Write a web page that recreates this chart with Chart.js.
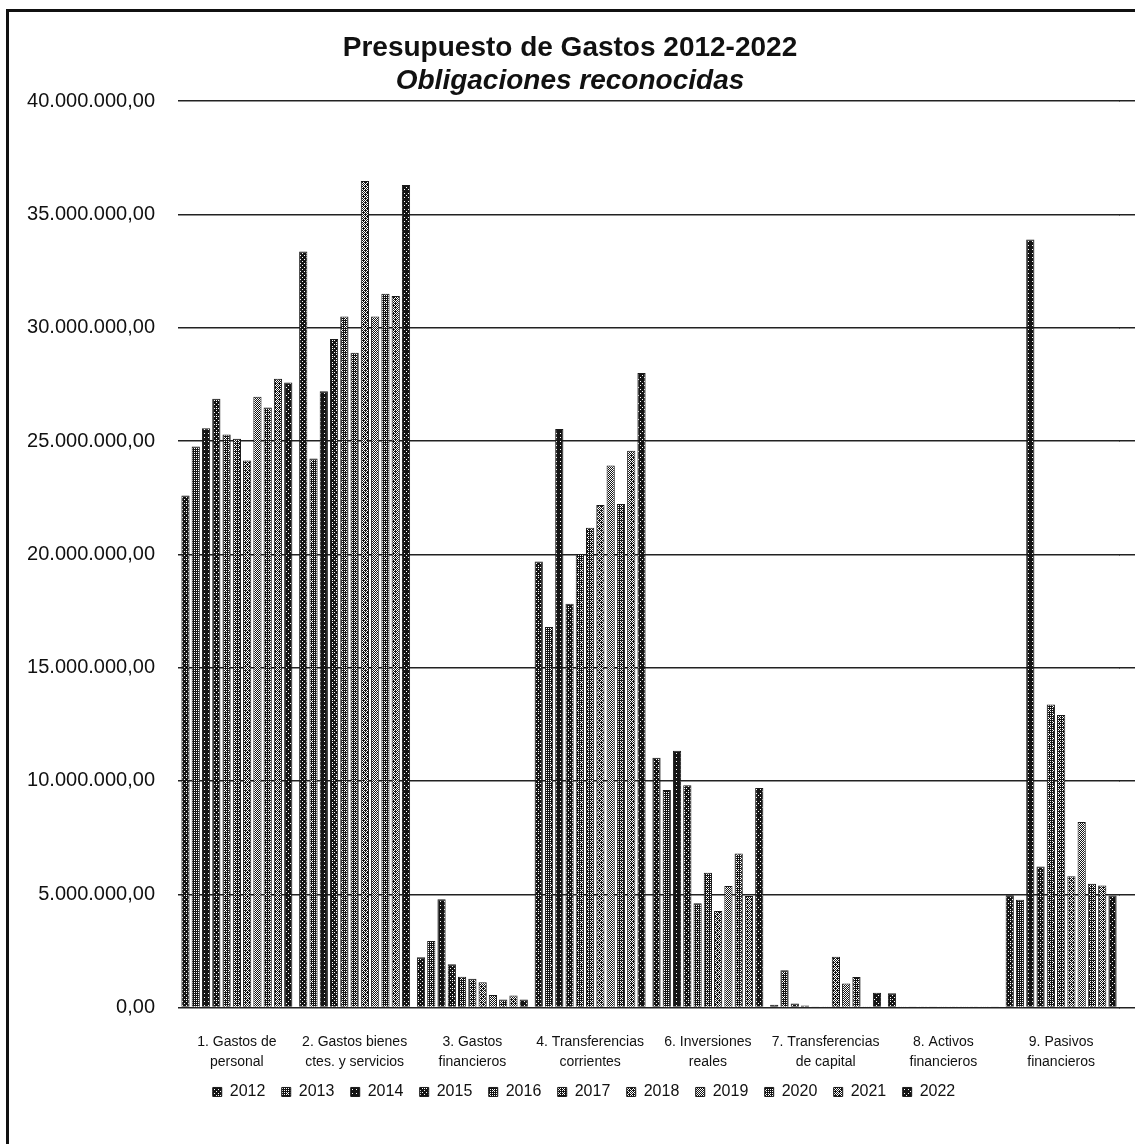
<!DOCTYPE html>
<html>
<head>
<meta charset="utf-8">
<script src="https://cdn.jsdelivr.net/npm/chart.js@4.4.1/dist/chart.umd.min.js"></script>
<style>
  html, body { margin: 0; padding: 0; background: #fff; overflow: hidden; }
  #wrap { position: relative; width: 1135px; height: 1144px; overflow: hidden; }
  #frame { position: absolute; left: 6px; top: 9px; width: 2000px; height: 2000px;
           border-left: 3px solid #111; border-top: 3px solid #111; pointer-events: none; }
  canvas { position: absolute; left: 0; top: 0; }
</style>
</head>
<body>
<div id="wrap">
  <canvas id="c" width="1135" height="1144"></canvas>
  <div id="frame"></div>
</div>
<script>
// ---- Data ----
const categories = [
  ["1. Gastos de", "personal"],
  ["2. Gastos bienes", "ctes. y servicios"],
  ["3. Gastos", "financieros"],
  ["4. Transferencias", "corrientes"],
  ["6. Inversiones", "reales"],
  ["7. Transferencias", "de capital"],
  ["8. Activos", "financieros"],
  ["9. Pasivos", "financieros"]
];
const years = ["2012","2013","2014","2015","2016","2017","2018","2019","2020","2021","2022"];
const v2012 = [22600000, 33370000, 2220000, 19690000, 11030000, 120000, 630000, 4960000];
const v2013 = [24760000, 24230000, 2940000, 16800000, 9600000, 1650000, 20000, 4760000];
const v2014 = [25570000, 27200000, 4780000, 25530000, 11330000, 180000, 20000, 33900000];
const v2015 = [26870000, 29500000, 1910000, 17820000, 9810000, 90000, 20000, 6220000];
const v2016 = [25290000, 30500000, 1360000, 20020000, 4600000, 30000, 20000, 13380000];
const v2017 = [25100000, 28900000, 1270000, 21170000, 5950000, 20000, 20000, 12910000];
const v2018 = [24140000, 36480000, 1120000, 22180000, 4260000, 2240000, 20000, 5790000];
const v2019 = [26960000, 30500000, 550000, 23920000, 5360000, 1060000, 20000, 8190000];
const v2020 = [26480000, 31500000, 360000, 22220000, 6800000, 1350000, 20000, 5460000];
const v2021 = [27750000, 31400000, 530000, 24570000, 4920000, 20000, 20000, 5390000];
const v2022 = [27580000, 36300000, 360000, 28010000, 9690000, 650000, 20000, 4950000];
const seriesValues = [v2012, v2013, v2014, v2015, v2016, v2017, v2018, v2019, v2020, v2021, v2022];
const yTicks = [0, 5000000, 10000000, 15000000, 20000000, 25000000, 30000000, 35000000, 40000000];

// ---- Styles (dither textures imitating the printed patterns) ----
const density = [0.86, 0.74, 0.93, 0.84, 0.72, 0.68, 0.60, 0.50, 0.70, 0.58, 0.91];
const bayer = [
  [0, 32, 8, 40, 2, 34, 10, 42],
  [48, 16, 56, 24, 50, 18, 58, 26],
  [12, 44, 4, 36, 14, 46, 6, 38],
  [60, 28, 52, 20, 62, 30, 54, 22],
  [3, 35, 11, 43, 1, 33, 9, 41],
  [51, 19, 59, 27, 49, 17, 57, 25],
  [15, 47, 7, 39, 13, 45, 5, 37],
  [63, 31, 55, 23, 61, 29, 53, 21]
];
function makePattern(d, shift) {
  const cv = document.createElement('canvas');
  cv.width = 8; cv.height = 8;
  const ctx = cv.getContext('2d');
  ctx.fillStyle = '#fff';
  ctx.fillRect(0, 0, 8, 8);
  ctx.fillStyle = '#151515';
  for (let y = 0; y < 8; y++) {
    for (let x = 0; x < 8; x++) {
      const t = (bayer[(y + shift) % 8][(x + 2 * shift) % 8] + 0.5) / 64;
      if (t < d) ctx.fillRect(x, y, 1, 1);
    }
  }
  return document.getElementById('c').getContext('2d').createPattern(cv, 'repeat');
}

function fmt(v) {
  const s = Math.round(v).toString().replace(/\B(?=(\d{3})+(?!\d))/g, '.');
  return s + ',00';
}

const GRID_W = 1.5;
function alignPx(p, w) { return Math.round(p - w / 2) + w / 2; }

// extend horizontal grid lines to the right edge of the canvas
const gridExtend = {
  id: 'gridExtend',
  beforeDatasetsDraw(chart) {
    const { ctx, chartArea, scales } = chart;
    ctx.save();
    ctx.strokeStyle = '#222';
    ctx.lineWidth = GRID_W;
    yTicks.forEach(v => {
      const y = alignPx(scales.y.getPixelForValue(v), GRID_W);
      ctx.beginPath();
      ctx.moveTo(chartArea.right - 1, y);
      ctx.lineTo(chart.width, y);
      ctx.stroke();
    });
    ctx.restore();
  }
};

// place the legend closer to the category labels, slightly right of centre
const legendLift = {
  id: 'legendLift',
  afterLayout(chart) {
    const lg = chart.legend;
    if (!lg) return;
    const target = chart.chartArea.bottom + 60;
    const dy = lg.top - target;
    lg.top -= dy;
    lg.bottom -= dy;
    lg.left += 14;
    lg.right += 14;
  }
};

const datasets = years.map((y, i) => ({
  label: y,
  data: seriesValues[i],
  backgroundColor: makePattern(density[i], i % 4),
  borderColor: '#1a1a1a',
  borderWidth: 1,
  categoryPercentage: 0.96,
  barPercentage: 0.8
}));

new Chart(document.getElementById('c'), {
  type: 'bar',
  data: { labels: categories, datasets },
  plugins: [gridExtend, legendLift],
  options: {
    responsive: false,
    animation: false,
    devicePixelRatio: 1,
    layout: { padding: { left: 20, right: 15, top: 0, bottom: 4 } },
    plugins: {
      title: {
        display: true,
        text: 'Presupuesto de Gastos 2012-2022',
        color: '#111',
        font: { family: 'Liberation Sans, Arial, sans-serif', size: 28, weight: 'bold' },
        padding: { top: 31, bottom: 0 }
      },
      subtitle: {
        display: true,
        text: 'Obligaciones reconocidas',
        color: '#111',
        font: { family: 'Liberation Sans, Arial, sans-serif', size: 28, weight: 'bold', style: 'italic' },
        padding: { top: 0, bottom: 3 }
      },
      legend: {
        position: 'bottom',
        labels: {
          color: '#111',
          boxWidth: 9,
          boxHeight: 9,
          padding: 16.4,
          font: { family: 'Liberation Sans, Arial, sans-serif', size: 16 }
        }
      },
      tooltip: { enabled: false }
    },
    scales: {
      x: {
        grid: { display: false, drawTicks: false },
        border: { display: false },
        ticks: {
          color: '#111',
          padding: 25,
          maxRotation: 0,
          autoSkip: false,
          font: { family: 'Liberation Sans, Arial, sans-serif', size: 14, lineHeight: 1.43 }
        }
      },
      y: {
        min: 0,
        max: 40000000,
        afterBuildTicks: (scale) => { scale.ticks = yTicks.map(v => ({ value: v })); },
        afterFit: (scale) => { scale.width = 158; },
        grid: { color: '#222', lineWidth: GRID_W, drawTicks: false },
        border: { display: false },
        ticks: {
          color: '#111',
          padding: 23,
          callback: (v) => fmt(v),
          font: { family: 'Liberation Sans, Arial, sans-serif', size: 20 }
        }
      }
    }
  }
});
</script>
</body>
</html>
